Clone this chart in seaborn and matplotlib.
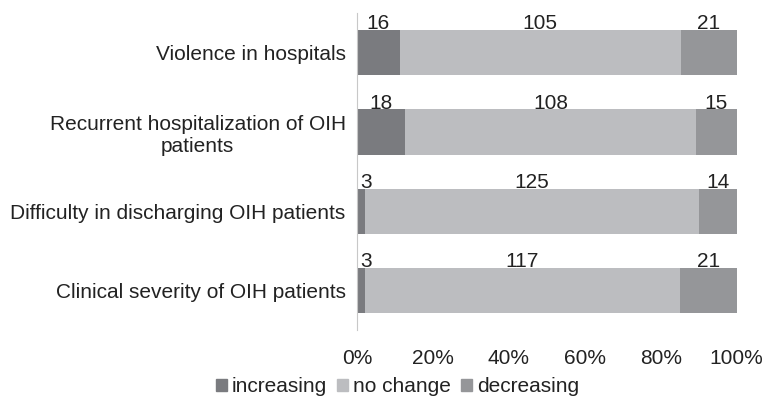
import pandas as pd
import numpy as np
import seaborn as sns
import matplotlib.pyplot as plt
from matplotlib.patches import Patch

categories = ["Violence in hospitals",
              "Recurrent hospitalization of OIH\npatients",
              "Difficulty in discharging OIH patients",
              "Clinical severity of OIH patients"]
increasing = [16, 18, 3, 3]
no_change = [105, 108, 125, 117]
decreasing = [21, 15, 14, 21]

series = ["increasing", "no change", "decreasing"]
colors = {"increasing": "#7a7b7f", "no change": "#bcbdc0", "decreasing": "#959699"}

df = pd.DataFrame({"cat": categories, "increasing": increasing,
                   "no change": no_change, "decreasing": decreasing})
total = df[series].sum(axis=1)
pct = df[series].div(total, axis=0) * 100
cum = pct.cumsum(axis=1)
cum["cat"] = df["cat"]

sns.set_style("white")
plt.rcParams["font.family"] = ["Liberation Sans", "DejaVu Sans"]

fs = 15
fig = plt.figure(figsize=(7.69, 4.01), dpi=100)
ax = fig.add_axes([0.464, 0.177, 0.494, 0.79])

h = 0.57
# draw cumulative bars back to front so they look stacked
for s in reversed(series):
    sns.barplot(data=cum, x=s, y="cat", color=colors[s], width=h,
                saturation=1, ax=ax, orient="h", linewidth=0)

# value labels centred above each segment (kept off the axis line)
starts = cum[series].shift(1, axis=1).fillna(0)
for i in range(len(categories)):
    for s in series:
        mid = max((starts.loc[i, s] + cum.loc[i, s]) / 2, 2.5)
        ax.text(mid, i - h / 2 + 0.04, str(df.loc[i, s]), ha="center",
                va="bottom", fontsize=fs, color="#222222")

ax.set_xlim(0, 100)
ax.set_ylim(3.5, -0.5)
ax.set_xticks([0, 20, 40, 60, 80, 100])
ax.set_xticklabels(["0%", "20%", "40%", "60%", "80%", "100%"])
ax.set_xlabel("")
ax.set_ylabel("")
ax.tick_params(axis="both", length=0, labelsize=fs, colors="#222222")
ax.tick_params(axis="x", pad=14)
ax.tick_params(axis="y", pad=8)
for sp in ["top", "right", "bottom"]:
    ax.spines[sp].set_visible(False)
ax.spines["left"].set_color("#c8c8c8")
for lab in ax.get_yticklabels():
    lab.set_multialignment("center")

handles = [Patch(color=colors[s], label=s) for s in series]
fig.legend(handles=handles, loc="lower center", ncol=3, frameon=False,
           bbox_to_anchor=(0.517, -0.025), fontsize=fs, handlelength=0.5,
           handleheight=0.5, handletextpad=0.25, columnspacing=0.5,
           borderpad=0.2, labelcolor="#222222")

plt.savefig("out.png", dpi=100)
plt.close()
